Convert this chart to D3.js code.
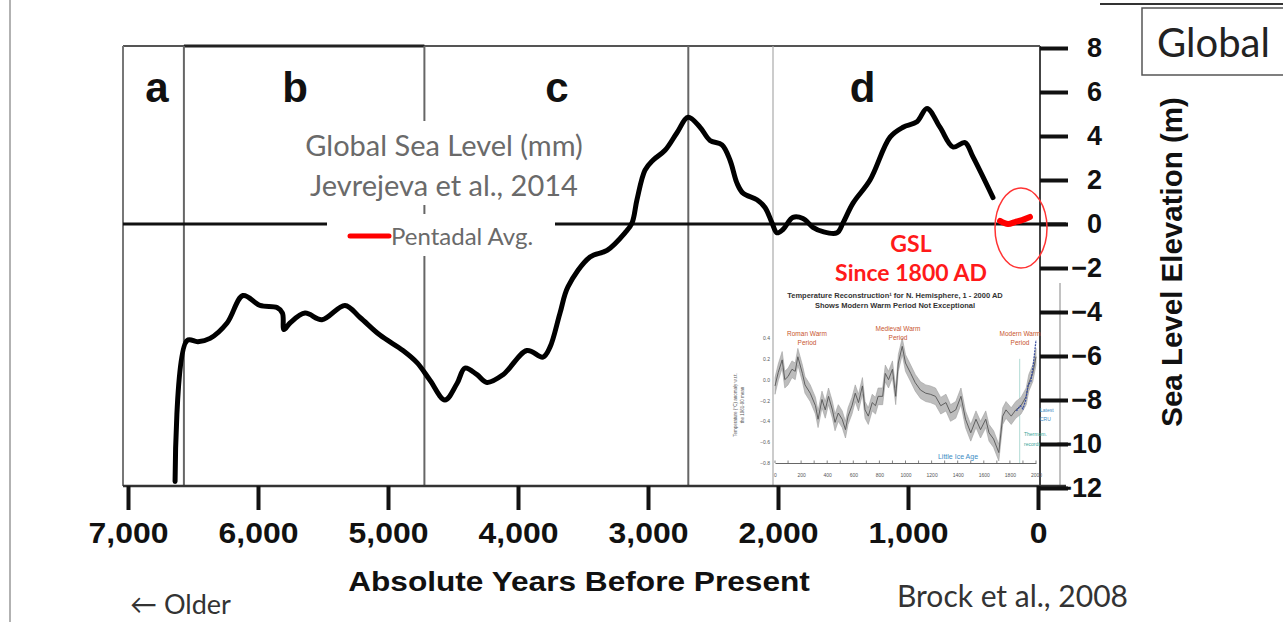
<!DOCTYPE html>
<html>
<head>
<meta charset="utf-8">
<script src="https://cdn.jsdelivr.net/npm/d3@7"></script>
<style>
  html, body { margin: 0; padding: 0; background: #fff; }
  svg { display: block; }
</style>
</head>
<body>
<svg id="chart" width="1283" height="622"></svg>
<script>
// ---------------- DATA ----------------
// Main curve: sea level (m) vs absolute years before present (Brock et al., 2008)
const years = [6638,6546,6462,6369,6238,6115,5985,5854,5812,5800,5754,5638,5508,5331,5215,5062,4885,4777,4677,4562,4469,4408,4315,4238,4115,3931,3808,3754,3677,3615,3446,3315,3177,3123,3085,3023,2962,2869,2777,2692,2600,2523,2431,2369,2315,2269,2162,2100,2046,2008,1962,1885,1808,1731,1654,1546,1500,1423,1292,1138,1038,931,854,754,654,562,500,346];
const seaLevel = [-11.7,-5.3,-5.35,-5.2,-4.5,-3.25,-3.7,-3.8,-4.05,-4.8,-4.5,-4.05,-4.35,-3.7,-4.25,-5.05,-5.75,-6.3,-7.1,-8.0,-7.25,-6.55,-6.85,-7.2,-6.85,-5.75,-6.05,-5.6,-4.05,-2.85,-1.5,-1.2,-0.4,0.05,1.1,2.45,2.9,3.35,4.15,4.85,4.4,3.8,3.6,2.9,1.85,1.4,1.1,0.75,0.05,-0.4,-0.25,0.3,0.25,-0.15,-0.35,-0.4,0.05,0.95,2.0,3.95,4.4,4.65,5.25,4.4,3.5,3.7,3.05,1.2];

// Global sea level since 1800 AD (Jevrejeva et al., 2014), pentadal average
const gslYears = [292,231,177,123,62];
const gslValues = [0.14,0.0,0.09,0.18,0.32];

// Axis ticks
const xTicks = [7000,6000,5000,4000,3000,2000,1000,0];
const yTicks = [8,6,4,2,0,-2,-4,-6,-8,-10,-12];

// Period boxes
const periodLabels = ["a","b","c","d"];
const periodLabelYears = [6777,5715,3700,1350];
const periodBounds = [6570,4720,2690];

// Inset: temperature reconstruction for N. Hemisphere, 1 - 2000 AD
const tempYears = [0,25,55,75,100,130,155,175,210,230,270,310,330,360,385,410,440,460,485,515,540,560,590,615,640,670,690,715,745,770,790,825,845,870,900,925,945,975,1000,1040,1075,1115,1155,1190,1230,1270,1310,1345,1385,1425,1460,1500,1540,1575,1615,1640,1675,1715,1745,1770,1810,1845,1885,1925,1945,1975,2000];
const tempValues = [-0.06,0.07,0.19,0,0.03,0.1,0.08,0.22,0.06,-0.05,-0.13,-0.25,-0.38,-0.19,-0.29,-0.16,-0.29,-0.41,-0.32,-0.38,-0.48,-0.35,-0.25,-0.13,-0.22,-0.06,-0.29,-0.35,-0.22,-0.25,-0.16,-0.16,0.06,0,0.1,-0.16,0.16,0.32,0.16,0.06,-0.03,-0.1,-0.13,-0.14,-0.16,-0.25,-0.22,-0.32,-0.29,-0.16,-0.38,-0.51,-0.38,-0.48,-0.38,-0.51,-0.57,-0.7,-0.35,-0.29,-0.35,-0.29,-0.25,-0.16,-0.03,0.06,0.22];
const tempUncertainty = [0.08];
const modernYears = [1850,1880,1900,1920,1940,1960,1980,2000];
const modernValues = [-0.3,-0.25,-0.28,-0.2,-0.05,-0.02,0.15,0.38];
const insetXTicks = [0,200,400,600,800,1000,1200,1400,1600,1800,2000];
const insetYTicks = [0.4,0.2,0,-0.2,-0.4,-0.6,-0.8];

(function () {
// ---------------- SCALES ----------------
const svg = d3.select("#chart");
const x = d3.scaleLinear().domain([7000, 0]).range([128, 1038]);
const y = d3.scaleLinear().domain([-12, 8]).range([488, 48]);
const ix = d3.scaleLinear().domain([0, 2000]).range([775, 1036]);
const iy = d3.scaleLinear().domain([-0.8, 0.4]).range([463, 338]);

const ARIAL = "'Liberation Sans', Arial, sans-serif";
const CAL = "Lato, 'Open Sans', sans-serif";

// slide edge line
svg.append("line").attr("x1",10).attr("x2",10).attr("y1",0).attr("y2",622)
  .attr("stroke","#999").attr("stroke-width",1.5);

// "Global" box
svg.append("line").attr("x1",1100).attr("x2",1283).attr("y1",4).attr("y2",4)
  .attr("stroke","#333").attr("stroke-width",2);
svg.append("rect").attr("x",1142).attr("y",8).attr("width",160).attr("height",67)
  .attr("fill","#fff").attr("stroke","#555").attr("stroke-width",1.5);
svg.append("text").attr("x",1157).attr("y",57).text("Global")
  .attr("font-family",CAL).attr("font-size",40).attr("fill","#222");

// ---------------- FRAME ----------------
const frame = svg.append("g");
const fLeft = 123, fRight = x(0) + 2, fTop = y(8) - 2, fBottom = y(-12) - 2;
frame.append("line").attr("x1",fLeft).attr("x2",fRight).attr("y1",fTop).attr("y2",fTop)
  .attr("stroke","#555").attr("stroke-width",2);
frame.append("line").attr("x1",x(periodBounds[0])).attr("x2",x(periodBounds[1])).attr("y1",fTop).attr("y2",fTop)
  .attr("stroke","#222").attr("stroke-width",3);
frame.append("line").attr("x1",fLeft).attr("x2",fLeft).attr("y1",fTop).attr("y2",fBottom)
  .attr("stroke","#777").attr("stroke-width",2);
periodBounds.forEach(b => {
  frame.append("line").attr("x1",x(b)).attr("x2",x(b)).attr("y1",fTop).attr("y2",fBottom)
    .attr("stroke","#666").attr("stroke-width",2);
});
frame.append("line").attr("x1",ix(0)-2).attr("x2",ix(0)-2).attr("y1",fTop).attr("y2",fBottom)
  .attr("stroke","#aaa").attr("stroke-width",1.2);
frame.append("line").attr("x1",1060).attr("x2",1060).attr("y1",283).attr("y2",fBottom+2)
  .attr("stroke","#999").attr("stroke-width",1.2);
frame.append("line").attr("x1",fRight).attr("x2",fRight).attr("y1",fTop).attr("y2",fBottom)
  .attr("stroke","#444").attr("stroke-width",2);

// zero line
frame.append("line").attr("x1",fLeft).attr("x2",1066).attr("y1",y(0)).attr("y2",y(0))
  .attr("stroke","#111").attr("stroke-width",3);

// period letters
periodLabels.forEach((l,i) => {
  svg.append("text").attr("x", x(periodLabelYears[i])).attr("y", 102)
    .attr("text-anchor","middle").attr("font-family",ARIAL).attr("font-weight","bold")
    .attr("font-size",42).attr("fill","#111").text(l);
});

// ---------------- LEGEND TEXT BOXES ----------------
svg.append("rect").attr("x",292).attr("y",121).attr("width",304).attr("height",84).attr("fill","#fff");
svg.append("rect").attr("x",327).attr("y",214).attr("width",228).attr("height",42).attr("fill","#fff");
svg.append("text").attr("x",444).attr("y",156).attr("text-anchor","middle")
  .attr("font-family",CAL).attr("font-size",29).attr("fill","#6a6a6a").text("Global Sea Level (mm)");
svg.append("text").attr("x",444).attr("y",196).attr("text-anchor","middle")
  .attr("font-family",CAL).attr("font-size",29).attr("fill","#6a6a6a").text("Jevrejeva et al., 2014");
svg.append("line").attr("x1",350).attr("x2",389).attr("y1",236).attr("y2",236)
  .attr("stroke","#f00").attr("stroke-width",5).attr("stroke-linecap","round");
svg.append("text").attr("x",391).attr("y",245).attr("font-family",CAL).attr("font-size",24)
  .attr("fill","#6a6a6a").text("Pentadal Avg.");

// ---------------- INSET ----------------
const inset = svg.append("g");
inset.append("text").attr("x",895).attr("y",298).attr("text-anchor","middle")
  .attr("font-family",ARIAL).attr("font-weight","bold").attr("font-size",7.5).attr("fill","#333")
  .text("Temperature Reconstruction\u00b9 for N. Hemisphere, 1 - 2000 AD");
inset.append("text").attr("x",895).attr("y",308).attr("text-anchor","middle")
  .attr("font-family",ARIAL).attr("font-weight","bold").attr("font-size",7.5).attr("fill","#333")
  .text("Shows Modern Warm Period Not Exceptional");

const iyAxis = d3.axisLeft(iy).tickValues(insetYTicks).tickSize(0).tickPadding(5).tickFormat(d3.format(".1f"));
inset.append("g").attr("transform",`translate(${ix(0)},0)`).call(iyAxis)
  .call(g => g.select(".domain").remove())
  .selectAll("text").attr("font-family",ARIAL).attr("font-size",5).attr("fill","#555");
const ixAxis = d3.axisBottom(ix).tickValues(insetXTicks).tickSize(0).tickPadding(10).tickFormat(d3.format("d"));
inset.append("g").attr("transform",`translate(0,${iy(-0.8)})`).call(ixAxis)
  .call(g => g.select(".domain").attr("stroke","#666").attr("stroke-width",1))
  .selectAll("text").attr("font-family",ARIAL).attr("font-size",5).attr("fill","#555");
inset.append("g").selectAll("line").data(d3.range(0,2001,100)).join("line")
  .attr("x1",d=>ix(d)).attr("x2",d=>ix(d)).attr("y1",iy(-0.8)).attr("y2",iy(-0.8)-2.5)
  .attr("stroke","#666").attr("stroke-width",0.8);
inset.append("text").attr("transform",`translate(737,405) rotate(-90)`).attr("text-anchor","middle")
  .attr("font-family",ARIAL).attr("font-size",4.5).attr("fill","#555").text("Temperature (\u00b0C) anomaly w.r.t.");
inset.append("text").attr("transform",`translate(744,405) rotate(-90)`).attr("text-anchor","middle")
  .attr("font-family",ARIAL).attr("font-size",4.5).attr("fill","#555").text("the 1961-90 mean");

inset.append("line").attr("x1",ix(1875)).attr("x2",ix(1875)).attr("y1",iy(0.2)).attr("y2",iy(-0.8))
  .attr("stroke","#9ccfc8").attr("stroke-width",0.8);

const band = d3.area().x((d,i)=>ix(tempYears[i]))
  .y0((d,i)=>iy(tempValues[i]-tempUncertainty[0])).y1((d,i)=>iy(tempValues[i]+tempUncertainty[0]));
inset.append("path").datum(tempValues).attr("d",band).attr("fill","#bdbdbd").attr("stroke","#a0a0a0").attr("stroke-width",0.6);
const tline = d3.line().x((d,i)=>ix(tempYears[i])).y(d=>iy(d));
inset.append("path").datum(tempValues).attr("d",tline).attr("fill","none").attr("stroke","#555").attr("stroke-width",0.9);
const mline = d3.line().x((d,i)=>ix(modernYears[i])).y(d=>iy(d));
inset.append("path").datum(modernValues).attr("d",mline).attr("fill","none").attr("stroke","#3a4fa0")
  .attr("stroke-width",1.3).attr("stroke-dasharray","2,1");

const warm = [["Roman Warm","Period",807,336],["Medieval Warm","Period",898,331],["Modern Warm","Period",1020,336]];
warm.forEach(w => {
  inset.append("text").attr("x",w[2]).attr("y",w[3]).attr("text-anchor","middle")
    .attr("font-family",ARIAL).attr("font-size",6.5).attr("fill","#c8552e").text(w[0]);
  inset.append("text").attr("x",w[2]).attr("y",w[3]+9).attr("text-anchor","middle")
    .attr("font-family",ARIAL).attr("font-size",6.5).attr("fill","#c8552e").text(w[1]);
});
inset.append("text").attr("x",958).attr("y",459).attr("text-anchor","middle")
  .attr("font-family",ARIAL).attr("font-size",7).attr("fill","#3d8cc4").text("Little Ice Age");
inset.append("text").attr("x",1040).attr("y",412).attr("font-family",ARIAL).attr("font-size",5).attr("fill","#3d8cc4").text("Latest");
inset.append("text").attr("x",1040).attr("y",421).attr("font-family",ARIAL).attr("font-size",5).attr("fill","#3d8cc4").text("CRU");
inset.append("text").attr("x",1024).attr("y",436).attr("font-family",ARIAL).attr("font-size",5).attr("fill","#3aa59a").text("Thermom.");
inset.append("text").attr("x",1024).attr("y",446).attr("font-family",ARIAL).attr("font-size",5).attr("fill","#3aa59a").text("records");

// ---------------- AXES ----------------
const xAxis = d3.axisBottom(x).tickValues(xTicks).tickSize(24).tickPadding(12).tickFormat(d3.format(","));
svg.append("g").attr("transform",`translate(0,${fBottom})`).call(xAxis)
  .call(g => g.select(".domain").attr("d",`M${fLeft},0H1066`).attr("stroke","#333").attr("stroke-width",2.5))
  .call(g => g.selectAll(".tick line").attr("stroke","#111").attr("stroke-width",4))
  .selectAll("text").attr("font-family",ARIAL).attr("font-weight","bold").attr("font-size",29)
  .attr("fill","#111").attr("transform","scale(1.1,1)");

const yAxis = d3.axisRight(y).tickValues(yTicks).tickSize(28).tickPadding(0).tickFormat(d3.format("d"));
svg.append("g").attr("transform",`translate(${fRight},0)`).call(yAxis)
  .call(g => g.select(".domain").remove())
  .call(g => g.selectAll(".tick line").attr("stroke","#111").attr("stroke-width",4))
  .selectAll("text").attr("x",62).attr("text-anchor","end")
  .attr("font-family",ARIAL).attr("font-weight","bold").attr("font-size",27).attr("fill","#111");

svg.append("text").attr("transform","translate(579,591) scale(1.13,1)").attr("text-anchor","middle")
  .attr("font-family",ARIAL).attr("font-weight","bold").attr("font-size",28).attr("fill","#111")
  .text("Absolute Years Before Present");
svg.append("text").attr("transform","translate(1182,262) rotate(-90)").attr("text-anchor","middle")
  .attr("font-family",ARIAL).attr("font-weight","bold").attr("font-size",29.5).attr("fill","#111")
  .text("Sea Level Elevation (m)");
svg.append("text").attr("x",130).attr("y",614).attr("font-family",CAL).attr("font-size",27)
  .attr("fill","#333").text("\u2190 Older");
svg.append("text").attr("x",897).attr("y",607).attr("font-family",CAL).attr("font-size",30)
  .attr("fill","#333").text("Brock et al., 2008");

// ---------------- CURVES ----------------
const line = d3.line().x((d,i)=>x(years[i])).y(d=>y(d)).curve(d3.curveCatmullRom.alpha(0.5));
svg.append("path").datum(seaLevel).attr("d",line).attr("fill","none").attr("stroke","#000")
  .attr("stroke-width",5).attr("stroke-linejoin","round").attr("stroke-linecap","round");

const gline = d3.line().x((d,i)=>x(gslYears[i])).y(d=>y(d)).curve(d3.curveCatmullRom.alpha(0.5));
svg.append("path").datum(gslValues).attr("d",gline).attr("fill","none").attr("stroke","#f00")
  .attr("stroke-width",6).attr("stroke-linecap","round");
svg.append("ellipse").attr("cx",1021).attr("cy",228).attr("rx",26).attr("ry",40)
  .attr("fill","none").attr("stroke","#f33").attr("stroke-width",1.5);

svg.append("text").attr("x",911).attr("y",252).attr("text-anchor","middle")
  .attr("font-family",CAL).attr("font-weight","bold").attr("font-size",23).attr("fill","#ff1a1a").text("GSL");
svg.append("text").attr("x",911).attr("y",281).attr("text-anchor","middle")
  .attr("font-family",CAL).attr("font-weight","bold").attr("font-size",23).attr("fill","#ff1a1a").text("Since 1800 AD");
})();
</script>
</body>
</html>
